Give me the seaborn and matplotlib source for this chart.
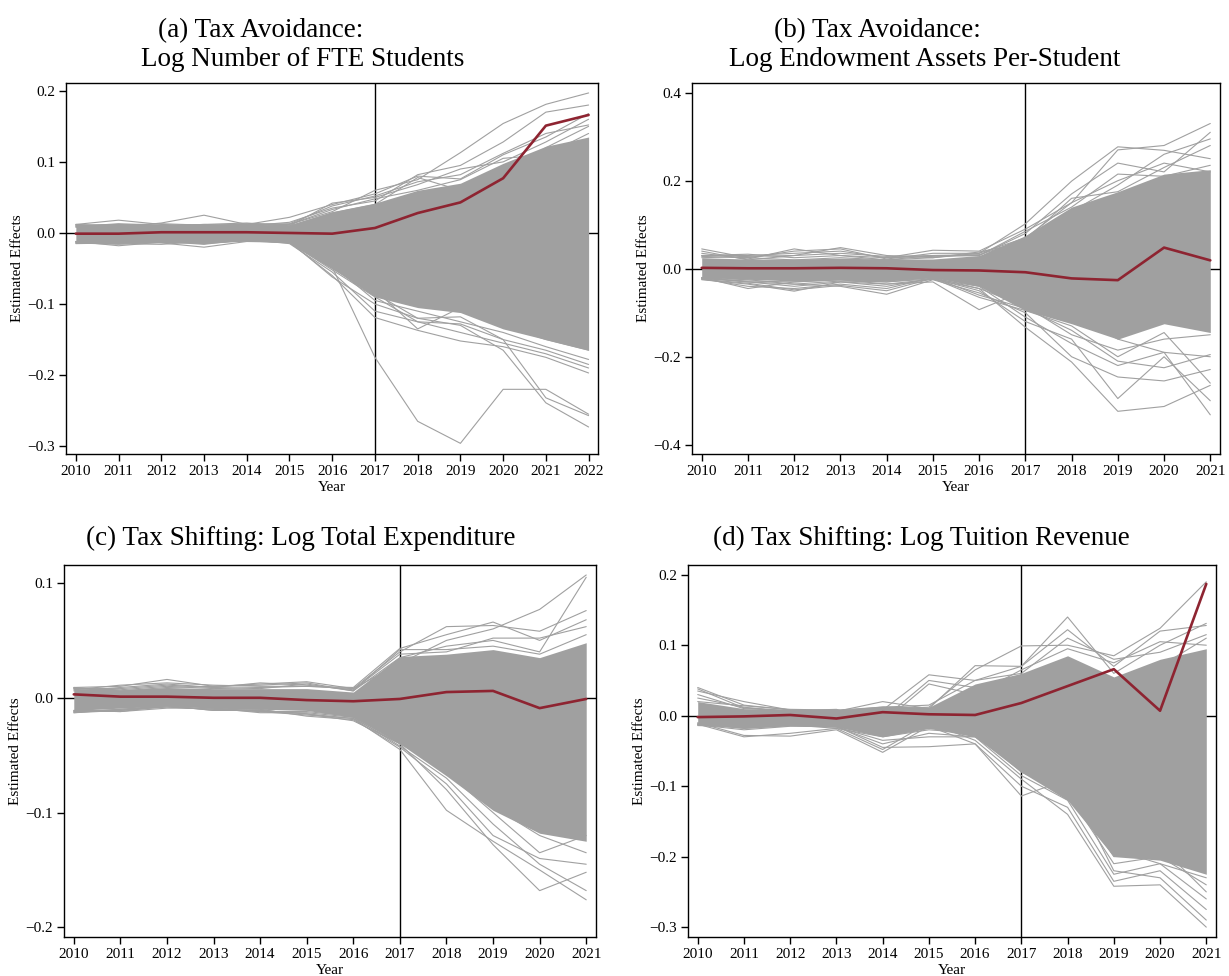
import numpy as np
import pandas as pd
import matplotlib
matplotlib.use("Agg")
import matplotlib.pyplot as plt
from matplotlib.ticker import FuncFormatter
import seaborn as sns

# ---------------------------------------------------------------
# Panel (a): Log Number of FTE Students
A_YEARS = list(range(2010, 2023))
A_EST = [-0.001, -0.001, 0.001, 0.001, 0.001, 0.000, -0.001, 0.007, 0.028, 0.043, 0.077, 0.151, 0.166]
A_CORE_HI = [0.011, 0.012, 0.012, 0.012, 0.012, 0.011, 0.030, 0.042, 0.060, 0.070, 0.098, 0.122, 0.135]
A_CORE_LO = [-0.013, -0.014, -0.013, -0.014, -0.011, -0.013, -0.050, -0.090, -0.105, -0.112, -0.135, -0.150, -0.165]
A_PLACEBO = [
    [0.008, 0.010, 0.008, 0.010, 0.010, 0.012, 0.030, 0.060, 0.075, 0.113, 0.154, 0.181, 0.197],
    [0.010, 0.012, 0.010, 0.012, 0.010, 0.015, 0.035, 0.045, 0.082, 0.095, 0.128, 0.170, 0.180],
    [0.012, 0.018, 0.012, 0.010, 0.012, 0.022, 0.040, 0.055, 0.080, 0.076, 0.110, 0.135, 0.168],
    [0.010, 0.008, 0.014, 0.025, 0.012, 0.010, 0.042, 0.050, 0.068, 0.090, 0.100, 0.128, 0.160],
    [0.012, 0.010, 0.010, 0.012, 0.014, 0.010, 0.028, 0.040, 0.078, 0.060, 0.085, 0.120, 0.150],
    [0.009, 0.013, 0.011, 0.009, 0.013, 0.012, 0.033, 0.048, 0.060, 0.075, 0.105, 0.110, 0.140],
    [0.011, 0.011, 0.013, 0.011, 0.012, 0.013, 0.038, 0.052, 0.072, 0.082, 0.112, 0.140, 0.152],
    [-0.012, -0.013, -0.012, -0.014, -0.010, -0.012, -0.048, -0.175, -0.265, -0.296, -0.220, -0.220, -0.255],
    [-0.014, -0.016, -0.013, -0.012, -0.011, -0.014, -0.050, -0.085, -0.120, -0.130, -0.165, -0.239, -0.273],
    [-0.012, -0.014, -0.013, -0.013, -0.011, -0.013, -0.052, -0.090, -0.125, -0.128, -0.150, -0.232, -0.257],
    [-0.013, -0.012, -0.014, -0.020, -0.012, -0.013, -0.060, -0.119, -0.137, -0.152, -0.160, -0.175, -0.197],
    [-0.015, -0.014, -0.012, -0.016, -0.009, -0.015, -0.055, -0.110, -0.125, -0.140, -0.155, -0.170, -0.190],
    [-0.012, -0.018, -0.013, -0.013, -0.010, -0.012, -0.062, -0.100, -0.120, -0.118, -0.150, -0.165, -0.185],
    [-0.014, -0.015, -0.016, -0.012, -0.008, -0.013, -0.045, -0.095, -0.110, -0.125, -0.140, -0.160, -0.178],
    [-0.013, -0.013, -0.012, -0.015, -0.011, -0.012, -0.040, -0.080, -0.135, -0.105, -0.130, -0.150, -0.165],
]
A_YTICKS = [-0.3, -0.2, -0.1, 0.0, 0.1, 0.2]

# Panel (b): Log Endowment Assets Per-Student
B_YEARS = list(range(2010, 2022))
B_EST = [0.002, 0.001, 0.001, 0.002, 0.001, -0.003, -0.004, -0.008, -0.022, -0.026, 0.048, 0.019]
B_CORE_HI = [0.025, 0.022, 0.022, 0.024, 0.022, 0.022, 0.030, 0.075, 0.140, 0.175, 0.215, 0.225]
B_CORE_LO = [-0.020, -0.024, -0.028, -0.025, -0.028, -0.020, -0.040, -0.095, -0.125, -0.160, -0.125, -0.145]
B_PLACEBO = [
    [0.045, 0.025, 0.020, 0.025, 0.020, 0.025, 0.035, 0.102, 0.199, 0.277, 0.269, 0.250],
    [0.030, 0.033, 0.025, 0.030, 0.025, 0.042, 0.040, 0.090, 0.150, 0.270, 0.280, 0.330],
    [0.035, 0.022, 0.045, 0.030, 0.020, 0.030, 0.030, 0.080, 0.170, 0.240, 0.220, 0.310],
    [0.025, 0.028, 0.030, 0.048, 0.030, 0.025, 0.038, 0.060, 0.130, 0.190, 0.260, 0.295],
    [0.028, 0.025, 0.040, 0.045, 0.022, 0.035, 0.035, 0.070, 0.150, 0.200, 0.240, 0.220],
    [0.040, 0.020, 0.030, 0.035, 0.028, 0.030, 0.032, 0.065, 0.160, 0.175, 0.230, 0.280],
    [0.030, 0.030, 0.035, 0.040, 0.025, 0.028, 0.030, 0.085, 0.140, 0.215, 0.210, 0.235],
    [-0.020, -0.045, -0.030, -0.025, -0.030, -0.020, -0.045, -0.133, -0.212, -0.324, -0.313, -0.265],
    [-0.022, -0.030, -0.040, -0.030, -0.035, -0.030, -0.093, -0.050, -0.100, -0.160, -0.190, -0.200],
    [-0.025, -0.035, -0.051, -0.030, -0.040, -0.022, -0.050, -0.120, -0.160, -0.295, -0.200, -0.300],
    [-0.020, -0.030, -0.035, -0.040, -0.058, -0.025, -0.055, -0.100, -0.200, -0.246, -0.255, -0.229],
    [-0.023, -0.040, -0.045, -0.035, -0.045, -0.020, -0.060, -0.090, -0.140, -0.210, -0.225, -0.195],
    [-0.021, -0.025, -0.035, -0.028, -0.030, -0.023, -0.040, -0.110, -0.170, -0.220, -0.190, -0.332],
    [-0.024, -0.033, -0.048, -0.038, -0.050, -0.022, -0.065, -0.095, -0.130, -0.200, -0.145, -0.260],
    [-0.022, -0.028, -0.030, -0.025, -0.035, -0.024, -0.045, -0.085, -0.150, -0.185, -0.160, -0.150],
]
B_YTICKS = [-0.4, -0.2, 0.0, 0.2, 0.4]

# Panel (c): Log Total Expenditure
C_YEARS = list(range(2010, 2022))
C_EST = [0.003, 0.001, 0.001, 0.000, 0.000, -0.002, -0.003, -0.001, 0.005, 0.006, -0.009, -0.001]
C_CORE_HI = [0.008, 0.007, 0.009, 0.008, 0.008, 0.008, 0.005, 0.036, 0.038, 0.042, 0.035, 0.048]
C_CORE_LO = [-0.011, -0.009, -0.007, -0.009, -0.010, -0.011, -0.017, -0.040, -0.068, -0.098, -0.118, -0.125]
C_PLACEBO = [
    [0.008, 0.007, 0.010, 0.008, 0.009, 0.010, 0.008, 0.030, 0.050, 0.060, 0.077, 0.107],
    [0.006, 0.009, 0.012, 0.009, 0.008, 0.012, 0.006, 0.035, 0.045, 0.050, 0.040, 0.105],
    [0.009, 0.010, 0.016, 0.010, 0.012, 0.014, 0.008, 0.040, 0.062, 0.063, 0.058, 0.076],
    [0.007, 0.011, 0.013, 0.011, 0.010, 0.010, 0.009, 0.043, 0.055, 0.066, 0.050, 0.068],
    [0.008, 0.008, 0.011, 0.009, 0.013, 0.011, 0.007, 0.038, 0.040, 0.052, 0.052, 0.062],
    [0.009, 0.006, 0.009, 0.010, 0.011, 0.013, 0.006, 0.042, 0.042, 0.045, 0.038, 0.055],
    [-0.012, -0.011, -0.008, -0.010, -0.012, -0.015, -0.018, -0.045, -0.098, -0.125, -0.150, -0.176],
    [-0.013, -0.010, -0.007, -0.011, -0.011, -0.014, -0.020, -0.040, -0.080, -0.128, -0.168, -0.152],
    [-0.011, -0.012, -0.009, -0.009, -0.013, -0.013, -0.017, -0.042, -0.070, -0.110, -0.145, -0.168],
    [-0.012, -0.010, -0.008, -0.010, -0.010, -0.016, -0.019, -0.043, -0.075, -0.120, -0.140, -0.145],
    [-0.013, -0.011, -0.006, -0.009, -0.012, -0.012, -0.016, -0.038, -0.065, -0.100, -0.135, -0.120],
    [-0.011, -0.012, -0.007, -0.011, -0.011, -0.014, -0.018, -0.040, -0.060, -0.095, -0.120, -0.135],
]
C_YTICKS = [-0.2, -0.1, 0.0, 0.1]

# Panel (d): Log Tuition Revenue
D_YEARS = list(range(2010, 2022))
D_EST = [-0.002, -0.001, 0.001, -0.004, 0.005, 0.002, 0.001, 0.018, 0.042, 0.066, 0.007, 0.187]
D_CORE_HI = [0.020, 0.010, 0.008, 0.008, 0.014, 0.012, 0.045, 0.060, 0.085, 0.055, 0.080, 0.095]
D_CORE_LO = [-0.012, -0.018, -0.014, -0.016, -0.030, -0.018, -0.030, -0.080, -0.120, -0.200, -0.205, -0.225]
D_PLACEBO = [
    [0.040, 0.015, 0.008, 0.006, 0.010, 0.012, 0.065, 0.099, 0.100, 0.085, 0.124, 0.190],
    [0.030, 0.010, 0.007, 0.008, 0.012, 0.015, 0.050, 0.070, 0.140, 0.060, 0.100, 0.131],
    [0.035, 0.020, 0.008, 0.006, 0.020, 0.010, 0.071, 0.070, 0.122, 0.070, 0.120, 0.128],
    [0.025, 0.012, 0.006, 0.007, 0.008, 0.058, 0.050, 0.060, 0.110, 0.080, 0.090, 0.115],
    [0.020, 0.014, 0.009, 0.008, -0.005, 0.050, 0.040, 0.050, 0.080, 0.050, 0.070, 0.110],
    [0.038, 0.011, 0.007, 0.009, -0.010, 0.045, 0.030, 0.065, 0.095, 0.075, 0.105, 0.100],
    [-0.010, -0.028, -0.029, -0.020, -0.052, -0.015, -0.040, -0.114, -0.090, -0.220, -0.230, -0.290],
    [-0.012, -0.030, -0.025, -0.018, -0.048, -0.010, -0.035, -0.090, -0.140, -0.242, -0.240, -0.300],
    [-0.013, -0.020, -0.015, -0.015, -0.045, -0.044, -0.040, -0.100, -0.130, -0.235, -0.220, -0.275],
    [-0.011, -0.018, -0.014, -0.016, -0.040, -0.025, -0.030, -0.085, -0.120, -0.225, -0.210, -0.260],
    [-0.014, -0.016, -0.013, -0.018, -0.030, -0.020, -0.025, -0.080, -0.110, -0.210, -0.200, -0.240],
    [-0.012, -0.014, -0.012, -0.015, -0.025, -0.018, -0.020, -0.070, -0.100, -0.190, -0.210, -0.230],
    [-0.013, -0.017, -0.013, -0.016, -0.035, -0.030, -0.030, -0.075, -0.105, -0.200, -0.185, -0.250],
]
D_YTICKS = [-0.3, -0.2, -0.1, 0.0, 0.1, 0.2]

TREATMENT_YEAR = 2017

# ---------------------------------------------------------------
sns.set_theme(style="ticks")
plt.rcParams["font.family"] = ["Liberation Serif", "DejaVu Serif"]
plt.rcParams["text.color"] = "black"
plt.rcParams["axes.labelcolor"] = "black"

GRAY = "#a0a0a0"
RED = "#8e2431"

W, H = 1229, 976
fig = plt.figure(figsize=(W / 100, H / 100), dpi=100)


def px_axes(left, top, right, bottom):
    return fig.add_axes([left / W, 1 - bottom / H, (right - left) / W, (bottom - top) / H])


def effect_label(v, _pos):
    return f"{v:.1f}".replace("-", "\u2212")


def draw_panel(ax, years, est, core_hi, core_lo, placebo, yticks, xlim, ylim):
    ax.axhline(0, color="black", lw=1.0, zorder=0.5)
    ax.axvline(TREATMENT_YEAR, color="black", lw=1.0, zorder=0.5)

    # dense mass of placebo estimates
    ax.fill_between(years, core_lo, core_hi, color=GRAY, lw=0, zorder=1)

    long = pd.DataFrame(
        [(i, y, v) for i, run in enumerate(placebo) for y, v in zip(years, run)],
        columns=["run", "year", "effect"],
    )
    sns.lineplot(data=long, x="year", y="effect", units="run", estimator=None,
                 color=GRAY, lw=0.8, ax=ax, legend=False, zorder=1.5)

    main = pd.DataFrame({"year": years, "effect": est})
    sns.lineplot(data=main, x="year", y="effect", color=RED, lw=1.9, ax=ax,
                 legend=False, zorder=3)

    ax.set_xlim(*xlim)
    ax.set_ylim(*ylim)
    ax.set_xticks(years)
    ax.set_xticklabels([str(y) for y in years])
    ax.set_yticks(yticks)
    ax.yaxis.set_major_formatter(FuncFormatter(effect_label))
    ax.tick_params(axis="both", direction="out", length=5, width=1.0,
                   labelsize=11, pad=3, colors="black")
    ax.set_xlabel("Year", fontsize=11, labelpad=2, color="black")
    ax.set_ylabel("Estimated Effects", fontsize=11, labelpad=2, color="black")
    for s in ax.spines.values():
        s.set_visible(True)
        s.set_color("black")
        s.set_linewidth(1.0)


ax_a = px_axes(66, 83, 598, 454)
draw_panel(ax_a, A_YEARS, A_EST, A_CORE_HI, A_CORE_LO, A_PLACEBO, A_YTICKS,
           (2009.77, 2022.22), (-0.311, 0.211))

ax_b = px_axes(692, 83, 1220, 454)
draw_panel(ax_b, B_YEARS, B_EST, B_CORE_HI, B_CORE_LO, B_PLACEBO, B_YTICKS,
           (2009.79, 2021.21), (-0.421, 0.422))

ax_c = px_axes(64, 565, 596, 937)
draw_panel(ax_c, C_YEARS, C_EST, C_CORE_HI, C_CORE_LO, C_PLACEBO, C_YTICKS,
           (2009.79, 2021.21), (-0.2084, 0.1157))

ax_d = px_axes(688, 565, 1216, 937)
draw_panel(ax_d, D_YEARS, D_EST, D_CORE_HI, D_CORE_LO, D_PLACEBO, D_YTICKS,
           (2009.79, 2021.21), (-0.314, 0.2138))

TITLE_SIZE = 19.5


def title_at(x, y, text):
    fig.text(x / W, 1 - y / H, text, ha="center", va="baseline",
             fontsize=TITLE_SIZE, color="black")


title_at(261, 37, "(a) Tax Avoidance:")
title_at(303, 66, "Log Number of FTE Students")
title_at(877, 37, "(b) Tax Avoidance:")
title_at(925, 66, "Log Endowment Assets Per-Student")
title_at(301, 545, "(c) Tax Shifting: Log Total Expenditure")
title_at(921, 545, "(d) Tax Shifting: Log Tuition Revenue")

fig.savefig("out.png", dpi=100, facecolor="white")
